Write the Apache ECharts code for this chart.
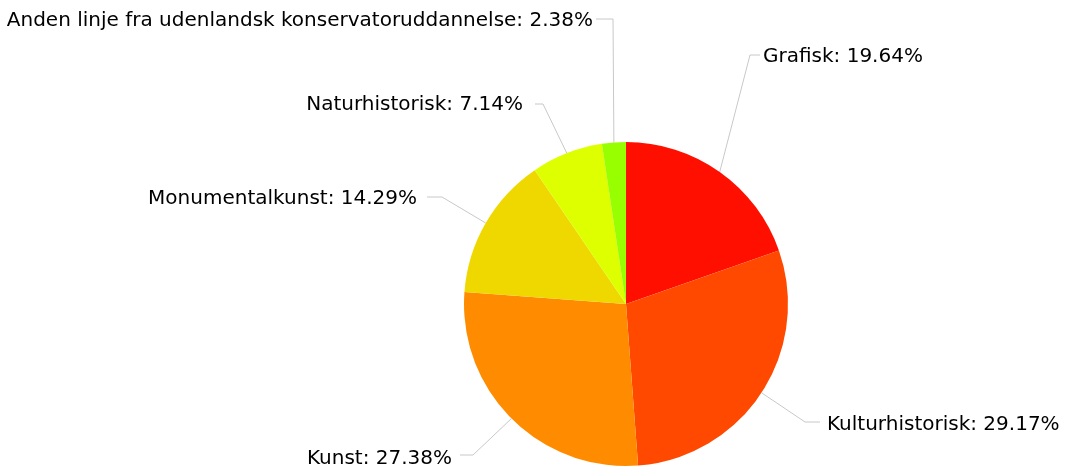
<!DOCTYPE html>
<html>
<head>
<meta charset="utf-8">
<script src="https://cdn.jsdelivr.net/npm/echarts@6/dist/echarts.min.js"></script>
<style>
  html, body { margin: 0; padding: 0; background: #fff; }
  #main { width: 1067px; height: 468px; }
</style>
</head>
<body>
<div id="main"></div>
<script>
var categories = [
  "Grafisk",
  "Kulturhistorisk",
  "Kunst",
  "Monumentalkunst",
  "Naturhistorisk",
  "Anden linje fra udenlandsk konservatoruddannelse"
];
var values = [33, 49, 46, 24, 12, 4];
var colors = ["#ff0f00", "#ff4800", "#ff8c00", "#efd800", "#deff00", "#98ff00"];

// where each label sits: text edge x, text middle y, leader y, corner x, leader end x
var labelSpots = [
  { align: "left",  x: 763, ty: 57,  ly: 55,  corner: 750, end: 760 },
  { align: "left",  x: 827, ty: 425, ly: 422, corner: 805, end: 820 },
  { align: "right", x: 452, ty: 459, ly: 455, corner: 473, end: 460 },
  { align: "right", x: 417, ty: 199, ly: 197, corner: 442, end: 427 },
  { align: "right", x: 523, ty: 105, ly: 104, corner: 543, end: 535 },
  { align: "right", x: 593, ty: 21,  ly: 19,  corner: 613, end: 596 }
];

var chartDom = document.getElementById("main");
var myChart = echarts.init(chartDom);

var option = {
  animation: false,
  series: [
    {
      type: "pie",
      center: [626, 304],
      radius: 162,
      startAngle: 90,
      clockwise: true,
      avoidLabelOverlap: false,
      itemStyle: { borderWidth: 0 },
      label: {
        formatter: "{b}: {d}%",
        color: "#000",
        fontFamily: "DejaVu Sans",
        fontSize: 20
      },
      labelLine: {
        show: true,
        length: 20,
        length2: 10,
        lineStyle: { color: "#c8c8c8", width: 1 }
      },
      labelLayout: function (params) {
        var s = labelSpots[params.dataIndex];
        var start = params.labelLinePoints ? params.labelLinePoints[0] : [s.corner, s.ly];
        return {
          x: s.x,
          y: s.ty,
          align: s.align,
          verticalAlign: "middle",
          labelLinePoints: [start, [s.corner, s.ly], [s.end, s.ly]]
        };
      },
      data: categories.map(function (name, i) {
        return { name: name, value: values[i], itemStyle: { color: colors[i] } };
      })
    }
  ]
};

option && myChart.setOption(option);
</script>
</body>
</html>
